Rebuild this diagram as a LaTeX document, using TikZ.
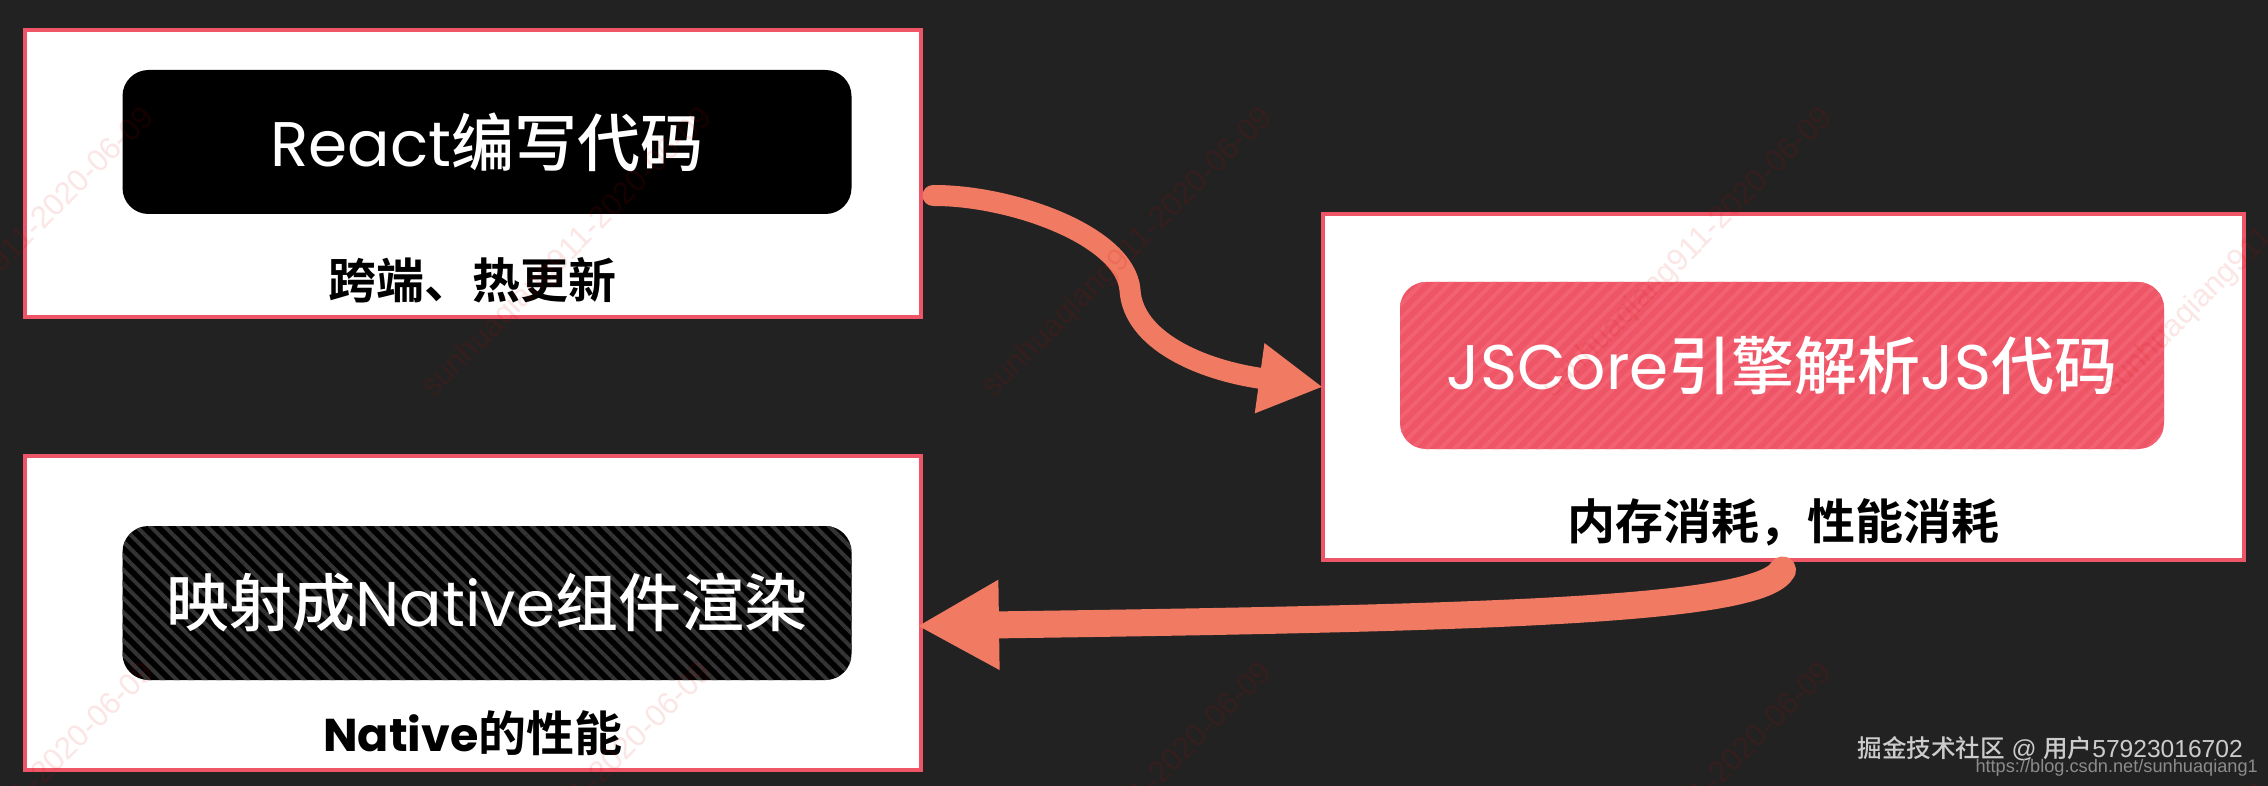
\documentclass[tikz,border=0pt]{standalone}
\usepackage{fontspec}
\usepackage{xcolor}
\usetikzlibrary{arrows.meta,patterns.meta,calc}
\setmainfont{Poppins}
\newfontfamily\cjk{Noto Sans CJK SC Medium}
\newfontfamily\cjkbold{Noto Sans CJK SC Bold}
\newfontfamily\urlfont{Liberation Sans}
\definecolor{bgdark}{HTML}{222222}
\definecolor{edgered}{HTML}{EE5566}
\definecolor{stripered}{HTML}{F26272}
\definecolor{stripedark}{HTML}{343434}
\definecolor{arrowred}{HTML}{F07A62}
\tikzset{
    outerbox/.style = {draw = edgered, line width = 4pt, fill = white, inner sep = 0, outer sep = 0},
    innerbox/.style = {rounded corners = 26pt, inner sep = 0, outer sep = 0, text = white,
        font = \fontsize{63}{70}\selectfont},
    sublabel/.style = {inner sep = 0, text = black, font = \fontsize{48}{54}\selectfont},
    flowline/.style = {draw = arrowred, line cap = round},
    wmark/.style = {anchor = east, rotate = 45, inner sep = 0, text = red!85!black, text opacity = .1,
        font = \urlfont\fontsize{31}{34}\selectfont},
}
\begin{document}
\begin{tikzpicture}[x = 1pt, y = -1pt]
    \clip (0,0) rectangle (2268,786);
    \fill[bgdark] (0,0) rectangle (2268,786);
    \node[outerbox, minimum width = 896pt, minimum height = 287pt] (boxReact) at (473,173.5) {};
    \node[outerbox, minimum width = 921pt, minimum height = 346pt] (boxCore) at (1783.5,387) {};
    \node[outerbox, minimum width = 896pt, minimum height = 314pt] (boxNative) at (473,613) {};
    \node[innerbox, fill = black, minimum width = 729pt, minimum height = 144pt] (stepReact) at (487,142)
        {React{\cjk 编写代码}};
    \node[innerbox, fill = edgered, minimum width = 764pt, minimum height = 167pt,
        postaction = {pattern = {Lines[angle = 45, distance = 10pt, line width = 4pt]}, pattern color = stripered}] (stepCore) at (1782,365.5) {};
    \node[innerbox, fill = black, minimum width = 729pt, minimum height = 154pt,
        postaction = {pattern = {Lines[angle = -45, distance = 10pt, line width = 4pt]}, pattern color = stripedark}] (stepNative) at (487,603) {};
    \node[innerbox, minimum size = 0pt] (textCore) at (stepCore) {JSCore{\cjk 引擎解析}JS{\cjk 代码}};
    \node[innerbox, minimum size = 0pt] (textNative) at (stepNative) {{\cjk 映射成}Native{\cjk 组件渲染}};
    \node[sublabel] (subReact) at (472,280) {\cjkbold 跨端、热更新};
    \node[sublabel] (subCore) at (1783,522) {\cjkbold 内存消耗，性能消耗};
    \node[sublabel] (subNative) at (473,733) {{\bfseries\fontsize{46}{50}\selectfont Native}{\cjkbold 的性能}};
    % the two arrows
    \coordinate (startReact) at ($(boxReact.east) + (12pt,-22pt)$);
    \coordinate (startCore) at ($(boxCore.south) + (-1pt,-10pt)$);
    \coordinate (endNative) at ($(boxNative.east) + (-4pt,-13pt)$);
    \draw[flowline, line width = 21pt, -{Triangle[length = 64pt, width = 66pt]}] (startReact)
        .. controls (1010,195) and (1125,235) .. (1130,290)
        .. controls (1133,340) and (1200,370) .. (boxCore.west);
    \draw[flowline, line width = 27pt, -{Triangle[length = 82pt, width = 84pt]}] (startCore)
        .. controls (1760,610) and (1500,618) .. (endNative);
    % faint stamps over everything
    \foreach \mx in {150,708,1268,1828,2388}
        \foreach \my in {113,668}
            \node[wmark] (wm\mx\my) at (\mx,\my) {sunhuaqiang911-2020-06-09};
    \node[anchor = base east, inner sep = 0, text = black!20!white, font = \fontsize{24.6}{28}\selectfont] (creditJuejin) at (2243,757)
        {{\cjk 掘金技术社区} {\urlfont @} {\cjk 用户}{\urlfont 57923016702}};
    \node[anchor = base east, inner sep = 0, text = black!45!white, font = \urlfont\fontsize{18.2}{20}\selectfont] (creditBlog) at (2258,772)
        {https://blog.csdn.net/sunhuaqiang1};
\end{tikzpicture}
\end{document}
